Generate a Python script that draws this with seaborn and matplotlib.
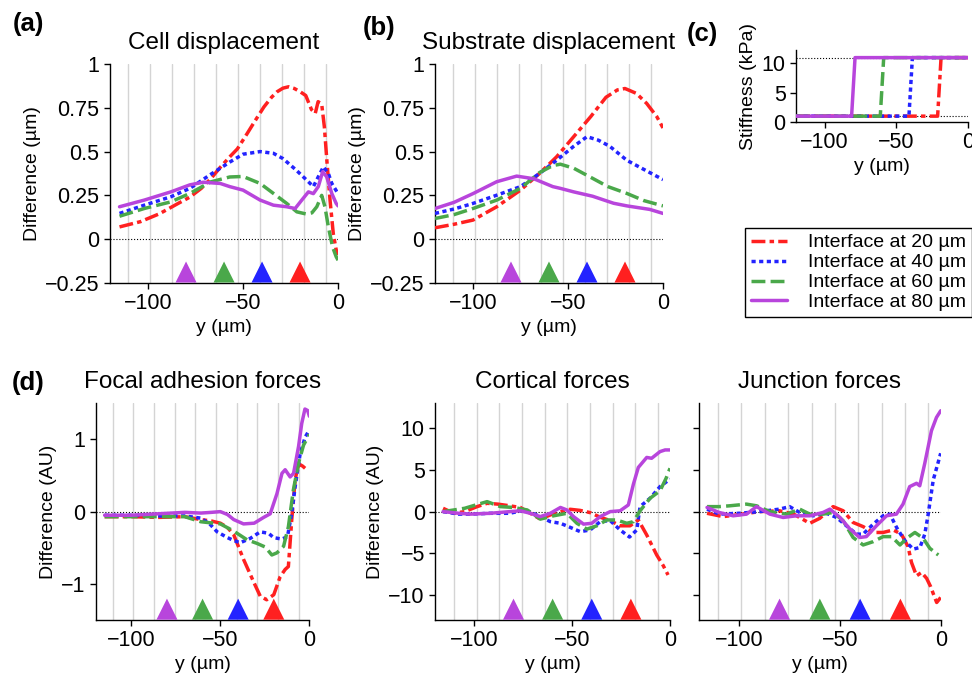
"""Stiffness interface comparison: displacement and force differences."""

import matplotlib

matplotlib.use("Agg")
import matplotlib.pyplot as plt
import numpy as np
import pandas as pd
import seaborn as sns
from matplotlib.lines import Line2D
from matplotlib.ticker import FuncFormatter

# ---- data ----
levels = ["20", "40", "60", "80"]
labels = ["Interface at 20 µm", "Interface at 40 µm", "Interface at 60 µm", "Interface at 80 µm"]
interfaces = [-20, -40, -60, -80]
cell_edges = [-110.5, -98.9, -87.3, -75.7, -64.1, -52.5, -40.9, -29.3, -17.7, -6.1]

# (a) cell displacement difference (µm)
cell_x_20 = [-115, -104, -94, -84, -78, -72, -67, -62, -57, -53, -48, -44, -39, -35, -32, -29, -26, -23,
             -20, -17, -14, -12, -10.5, -8.6, -7.2, -5.9, -4.2, -2.5, -1, 0]
cell_y_20 = [0.07, 0.10, 0.145, 0.205, 0.24, 0.29, 0.345, 0.41, 0.47, 0.515, 0.60, 0.67, 0.755, 0.81, 0.842,
             0.862, 0.870, 0.860, 0.842, 0.82, 0.74, 0.718, 0.785, 0.77, 0.64, 0.45, 0.22, 0.03, -0.06, -0.09]
cell_x_40 = [-115, -102, -88, -78, -67, -57, -50, -41, -34, -29, -22, -16.5, -13, -10.4, -7.7, -5.1, -3.3, 0]
cell_y_40 = [0.147, 0.194, 0.242, 0.29, 0.37, 0.44, 0.485, 0.50, 0.49, 0.46, 0.394, 0.337, 0.30, 0.356,
             0.413, 0.375, 0.318, 0.26]
cell_x_60 = [-115, -102, -88, -78, -67, -57, -50, -41, -34, -27, -21.7, -16.5, -13.8, -11.2, -8.6, -6.9,
             -5.1, -2.9, -1, 0]
cell_y_60 = [0.131, 0.175, 0.213, 0.261, 0.327, 0.355, 0.358, 0.318, 0.261, 0.204, 0.156, 0.143, 0.15,
             0.185, 0.25, 0.185, 0.07, -0.044, -0.10, -0.12]
cell_x_80 = [-115, -102, -88, -78, -71, -62, -57, -50, -41, -34, -27, -22.6, -19.1, -15.6, -13, -10.4,
             -8.1, -6, -3.3, -1, 0]
cell_y_80 = [0.185, 0.223, 0.27, 0.31, 0.325, 0.318, 0.30, 0.28, 0.223, 0.194, 0.185, 0.175, 0.223, 0.27,
             0.26, 0.30, 0.385, 0.356, 0.261, 0.204, 0.19]

# (b) substrate displacement difference (µm)
sub_x_20 = [-120, -110, -100, -87.5, -75, -65, -56, -47, -38, -30, -24, -20, -14, -8.6, -3.3, 0]
sub_y_20 = [0.065, 0.085, 0.109, 0.185, 0.28, 0.375, 0.47, 0.585, 0.70, 0.81, 0.852, 0.86, 0.832, 0.775,
            0.70, 0.635]
sub_x_40 = [-120, -110, -100, -87.5, -75, -65, -56, -47, -40, -34, -28, -19, -10.4, 0]
sub_y_40 = [0.147, 0.172, 0.204, 0.251, 0.30, 0.375, 0.45, 0.53, 0.585, 0.565, 0.53, 0.45, 0.40, 0.34]
sub_x_60 = [-120, -110, -100, -87.5, -75, -65, -58, -54, -47, -37, -29, -19, -10, 0]
sub_y_60 = [0.118, 0.14, 0.175, 0.223, 0.29, 0.38, 0.42, 0.428, 0.405, 0.347, 0.30, 0.261, 0.22, 0.19]
sub_x_80 = [-120, -110, -100, -87.5, -77, -68, -58, -54, -47, -37, -26, -19, -7, 0]
sub_y_80 = [0.175, 0.21, 0.26, 0.328, 0.36, 0.345, 0.30, 0.29, 0.27, 0.245, 0.205, 0.19, 0.17, 0.147]

# (c) stiffness profiles (kPa)
stiff_soft = 1
stiff_hard = 11
stiff_x = [-120, 0]

# (d) focal adhesion forces (AU)
fa_x_20 = [-115, -100, -85, -70, -61, -55, -50, -46, -42.5, -37, -31, -27.6, -24, -20, -16.4, -13.6, -11.8,
           -9.9, -8, -6.5, -5.2, -3.8, -2.4]
fa_y_20 = [-0.07, -0.07, -0.08, -0.07, -0.11, -0.13, -0.16, -0.22, -0.32, -0.66, -0.99, -1.17, -1.22,
           -1.15, -0.90, -0.80, -0.76, -0.11, 0.44, 0.62, 0.65, 0.63, 0.60]
fa_x_40 = [-115, -100, -85, -70, -61, -56, -51.8, -46, -42.5, -38.8, -33.2, -27.6, -22.9, -20.1, -15.4,
           -12.3, -9.9, -8, -5.2, -2.4, 0]
fa_y_40 = [-0.05, -0.05, -0.06, -0.06, -0.09, -0.17, -0.28, -0.36, -0.40, -0.43, -0.37, -0.28, -0.30,
           -0.36, -0.38, -0.345, -0.02, 0.345, 0.80, 1.03, 1.13]
fa_x_60 = [-115, -100, -85, -70, -61, -50, -42.5, -35, -29.4, -24.8, -21.1, -18.2, -14.5, -11.8, -9, -6.1,
           -3.3, 0]
fa_y_60 = [-0.07, -0.07, -0.07, -0.07, -0.14, -0.17, -0.27, -0.39, -0.44, -0.49, -0.60, -0.57, -0.48,
           -0.21, 0.30, 0.67, 0.92, 1.07]
fa_x_80 = [-115, -100, -85, -70, -61, -55, -50, -46, -42.5, -37, -31, -25.7, -22, -18.2, -15.4, -13.6,
           -10.8, -8.9, -6.1, -4.3, -2.5, -1, 0]
fa_y_80 = [-0.05, -0.05, -0.03, -0.01, -0.02, -0.01, 0.0, -0.04, -0.11, -0.17, -0.16, -0.08, -0.03, 0.25,
           0.53, 0.58, 0.48, 0.53, 0.90, 1.22, 1.42, 1.40, 1.32]

# cortical forces (AU)
cort_x_20 = [-116, -110.5, -105, -98.6, -93.5, -88, -82, -76.5, -71.4, -66.3, -61.2, -56, -51, -46, -40.8,
             -35.7, -30.6, -25.5, -20.4, -16.2, -11.9, -6.8, -3.4, -1]
cort_y_20 = [0.4, -0.2, 0.0, 0.6, 1.0, 0.9, 0.7, 0.5, -0.2, -0.9, -0.4, 0.0, 0.28, 0.15, -0.12, -0.67,
             -1.07, -1.7, -1.7, -1.0, -2.8, -5.2, -6.5, -7.6]
cort_x_40 = [-116, -108, -102, -92, -82, -74, -66.3, -61.2, -56, -51.9, -45.9, -40.8, -35.7, -30.6, -25.5,
             -20.7, -17, -15.3, -10.2, -5.1, 0]
cort_y_40 = [0.0, -0.3, -0.3, -0.2, -0.2, 0.2, -0.6, -1.2, -1.4, -1.8, -2.4, -2.2, -1.2, -1.07, -2.2,
             -3.05, -2.2, 0.6, 1.6, 3.0, 3.9]
cort_x_60 = [-116, -105, -100, -93.5, -86.7, -80, -73, -66.3, -59.5, -52.7, -47.6, -42.5, -37.4, -32.3,
             -27.2, -22.1, -18.7, -15.3, -10.2, -5.1, -2, 0]
cort_y_60 = [0.0, 0.4, 0.75, 1.2, 0.6, 0.5, 0.2, -0.9, -0.5, -0.2, -1.4, -2.1, -1.7, -1.0, -1.0, -1.4,
             -1.2, 0.1, 1.6, 2.5, 4.0, 5.2]
cort_x_80 = [-116, -108, -102, -92, -82, -76.5, -71.4, -66.3, -61.2, -56, -52.7, -49.3, -44.2, -40, -35.7,
             -30.6, -25.5, -21.3, -18.7, -16.2, -11.9, -9.4, -5.1, -2.5, 0]
cort_y_80 = [0.0, -0.2, -0.3, -0.2, 0.0, 0.1, -0.2, -0.6, -0.2, 0.5, 0.2, -0.6, -1.5, -1.4, -0.6, 0.0,
             0.1, 0.8, 3.3, 5.3, 6.5, 6.4, 7.2, 7.4, 7.4]

# junction forces (AU)
junc_x_20 = [-116, -108, -100, -90, -80, -73, -65, -60, -53.4, -48.4, -43.5, -38.5, -33.5, -28.6, -23.6,
             -19.5, -16.2, -14.5, -12, -9.5, -7, -5, -3.6, -2, 0]
junc_y_20 = [-0.2, -0.6, -0.35, 0.0, 0.1, -0.3, -1.4, -0.8, 0.6, 0.1, -1.3, -1.8, -2.5, -2.5, -2.2, -2.7,
             -4.2, -6.1, -7.7, -7.3, -8.0, -9.0, -9.9, -10.9, -10.3]
junc_x_40 = [-116, -110, -100, -90, -80, -75, -70, -63.3, -56.7, -51.7, -46.8, -41.8, -38.5, -33.5, -28.6,
             -25.2, -21.9, -17.8, -13.6, -10.3, -7.9, -6.2, -3.7, 0]
junc_y_40 = [0.3, -0.3, -0.2, 0.0, 0.3, 0.6, -0.1, -0.5, -0.2, -0.7, -1.7, -2.7, -2.7, -1.5, -0.5, -0.3,
             -1.9, -3.5, -4.5, -4.3, -2.7, -0.3, 3.8, 7.0]
junc_x_60 = [-116, -110, -104.7, -96.4, -91.4, -84.8, -76.5, -70, -65, -58.4, -53.4, -48.4, -43.5, -38.5,
             -33.5, -28.6, -24.4, -20.2, -16.9, -12.8, -8.7, -5.4, -1.2]
junc_y_60 = [0.6, 0.6, 0.7, 0.9, 0.7, 0.0, -0.3, 0.3, -0.3, -0.3, -0.1, -1.1, -3.1, -4.0, -3.6, -3.0,
             -3.0, -4.0, -3.2, -2.5, -3.2, -4.4, -5.2]
junc_x_80 = [-116, -110, -103, -96.4, -91.4, -84.8, -78.2, -71.6, -65, -58.4, -55, -50, -45, -40.2, -36.9,
             -31.9, -26.9, -22, -18.7, -15.4, -12, -10.4, -7.9, -4.6, -2.1, 0]
junc_y_80 = [0.5, -0.1, -0.5, -0.3, 0.6, -0.3, -0.7, -0.5, -0.5, -0.1, 0.3, -0.7, -2.1, -3.1, -3.0, -1.7,
             -0.5, -0.3, 0.9, 3.0, 3.4, 3.1, 5.8, 9.7, 11.3, 12.1]

# ---- styling ----
palette = {"20": "#ff2020", "40": "#2323ff", "60": "#4aa84a", "80": "#b845dc"}
dash_map = {"20": (4, 1.2, 1.3, 1.2), "40": (1.2, 1.0), "60": (4, 1.5), "80": ""}
LW = 2.5

sns.set_theme(style="ticks")
plt.rcParams["font.family"] = ["Liberation Sans", "DejaVu Sans"]
plt.rcParams.update({
    "axes.linewidth": 1.0,
    "xtick.labelsize": 15.5,
    "ytick.labelsize": 15.5,
    "axes.labelsize": 14,
    "axes.labelpad": 3,
    "xtick.major.size": 4.5,
    "ytick.major.size": 4.5,
    "xtick.major.width": 1.0,
    "ytick.major.width": 1.0,
    "xtick.major.pad": 3,
    "ytick.major.pad": 3,
    "xtick.color": "black",
    "ytick.color": "black",
    "axes.edgecolor": "black",
    "text.color": "black",
    "axes.labelcolor": "black",
})

fmt = FuncFormatter(lambda v, _: f"{v:g}".replace("-", "\u2212"))


def draw_curves(ax, xs_list, ys_list):
    frames = [pd.DataFrame({"pos": xs, "val": ys, "interface": key})
              for key, xs, ys in zip(levels, xs_list, ys_list)]
    df = pd.concat(frames, ignore_index=True)
    sns.lineplot(data=df, x="pos", y="val", hue="interface", style="interface",
                 hue_order=levels, style_order=levels, palette=palette, dashes=dash_map,
                 estimator=None, sort=False, lw=LW, legend=False, ax=ax, zorder=3)


def decorate(ax, ylim, yticks, title=None, ylabel="Difference (µm)", markers=True, show_ylabels=True):
    ax.set_xlim(-120, 0)
    ax.set_ylim(*ylim)
    for e in cell_edges:
        ax.axvline(e, color="#d4d4d4", lw=1.0, zorder=0)
    ax.axhline(0, color="black", lw=0.8, ls=":", zorder=1)
    if markers:
        level = ylim[0] + 0.05 * (ylim[1] - ylim[0])
        sns.scatterplot(x=interfaces, y=[level] * 4, hue=levels, palette=palette, marker="^",
                        s=230, linewidth=0, legend=False, ax=ax, zorder=4, clip_on=False)
    ax.set_xticks([-100, -50, 0])
    ax.set_yticks(yticks)
    ax.xaxis.set_major_formatter(fmt)
    ax.yaxis.set_major_formatter(fmt)
    ax.set_xlabel("y (µm)")
    ax.set_ylabel(ylabel if show_ylabels else "")
    if not show_ylabels:
        ax.set_yticklabels([])
    if title:
        ax.set_title(title, fontsize=17.5, pad=11)
    sns.despine(ax=ax)


fig = plt.figure(figsize=(9.72, 6.85), dpi=100)

ax_a = fig.add_axes([0.1132, 0.5869, 0.2346, 0.3197])
draw_curves(ax_a, [cell_x_20, cell_x_40, cell_x_60, cell_x_80], [cell_y_20, cell_y_40, cell_y_60, cell_y_80])
decorate(ax_a, (-0.25, 1), [-0.25, 0, 0.25, 0.5, 0.75, 1], "Cell displacement")

ax_b = fig.add_axes([0.4475, 0.5869, 0.2346, 0.3197])
draw_curves(ax_b, [sub_x_20, sub_x_40, sub_x_60, sub_x_80], [sub_y_20, sub_y_40, sub_y_60, sub_y_80])
decorate(ax_b, (-0.25, 1), [-0.25, 0, 0.25, 0.5, 0.75, 1], "Substrate displacement")

# (c) stiffness steps
ax_c = fig.add_axes([0.8189, 0.8219, 0.1770, 0.1051])
step_frames = []
for key, d in zip(levels, interfaces):
    step_frames.append(pd.DataFrame({
        "pos": [stiff_x[0], d - 1.2, d + 1.2, stiff_x[1]],
        "val": [stiff_soft, stiff_soft, stiff_hard, stiff_hard],
        "interface": key,
    }))
step_df = pd.concat(step_frames, ignore_index=True)
sns.lineplot(data=step_df, x="pos", y="val", hue="interface", style="interface", hue_order=levels,
             style_order=levels, palette=palette, dashes=dash_map, estimator=None, sort=False,
             lw=LW, legend=False, ax=ax_c, zorder=3)
ax_c.axhline(stiff_hard, color="black", lw=0.8, ls=":", zorder=1)
ax_c.axhline(stiff_soft, color="black", lw=0.8, ls=":", zorder=1)
ax_c.set_xlim(-120, 0)
ax_c.set_ylim(0, 12.3)
ax_c.set_xticks([-100, -50, 0])
ax_c.set_yticks([0, 5, 10])
ax_c.xaxis.set_major_formatter(fmt)
ax_c.set_xlabel("y (µm)")
ax_c.set_ylabel("Stiffness (kPa)")
sns.despine(ax=ax_c)

# (d) forces
ax_d1 = fig.add_axes([0.0985, 0.0949, 0.2198, 0.3164])
draw_curves(ax_d1, [fa_x_20, fa_x_40, fa_x_60, fa_x_80], [fa_y_20, fa_y_40, fa_y_60, fa_y_80])
decorate(ax_d1, (-1.5, 1.5), [-1, 0, 1], "Focal adhesion forces", ylabel="Difference (AU)")

ax_d2 = fig.add_axes([0.4478, 0.0949, 0.2415, 0.3164])
draw_curves(ax_d2, [cort_x_20, cort_x_40, cort_x_60, cort_x_80], [cort_y_20, cort_y_40, cort_y_60, cort_y_80])
decorate(ax_d2, (-13, 13), [-10, -5, 0, 5, 10], "Cortical forces", ylabel="Difference (AU)")

ax_d3 = fig.add_axes([0.7191, 0.0949, 0.2487, 0.3164])
draw_curves(ax_d3, [junc_x_20, junc_x_40, junc_x_60, junc_x_80], [junc_y_20, junc_y_40, junc_y_60, junc_y_80])
decorate(ax_d3, (-13, 13), [-10, -5, 0, 5, 10], "Junction forces", show_ylabels=False)

# legend
handles = []
for k in levels:
    h = Line2D([], [], color=palette[k], lw=LW)
    if dash_map[k]:
        h.set_dashes(dash_map[k])
    handles.append(h)
leg = fig.legend(handles, labels, loc="upper left", bbox_to_anchor=(745 / 972, 1 - 228 / 685),
                 fontsize=14, frameon=True, fancybox=False, edgecolor="black", framealpha=1,
                 handlelength=1.85, handletextpad=1.1, labelspacing=0.12, borderpad=0.3,
                 borderaxespad=0)
leg.get_frame().set_linewidth(1.0)

# panel letters
for txt, x, y in [("(a)", 12.7, 24), ("(b)", 363, 28.5), ("(c)", 686.7, 34), ("(d)", 11.7, 383)]:
    fig.text(x / 972, 1 - y / 685, txt, fontsize=18.5, fontweight="bold", ha="left", va="center")

fig.savefig("out.png", dpi=100)
